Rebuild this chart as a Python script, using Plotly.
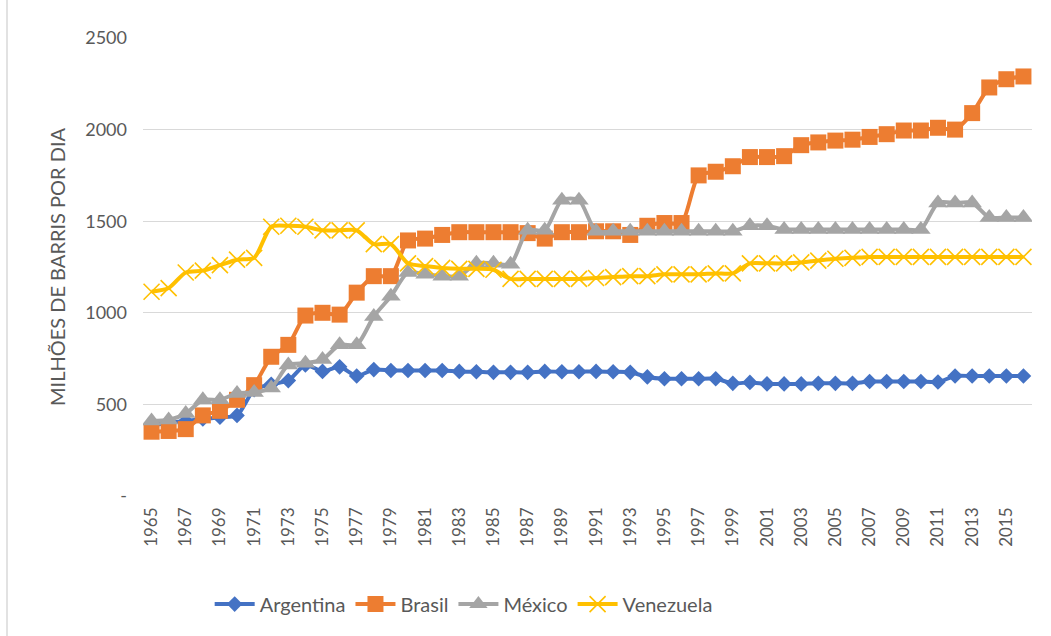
import plotly.graph_objects as go

# Produção de petróleo (milhões de barris por dia), 1965-2016
anos = list(range(1965, 2017))

argentina = [385, 400, 410, 420, 430, 440, 580, 610, 630, 715, 680, 705, 655, 690, 685,
             685, 685, 685, 680, 678, 675, 675, 675, 680, 678,
             678, 680, 678, 675, 650, 640, 640, 640, 640, 615,
             620, 612, 612, 612, 615, 615, 615, 625, 625, 625,
             625, 622, 655, 655, 655, 655, 655]

brasil = [351, 355, 365, 440, 465, 525, 605, 760, 825, 985, 1000, 990, 1110, 1200, 1200,
          1395, 1405, 1425, 1440, 1440, 1440, 1440, 1435, 1405, 1440,
          1440, 1445, 1445, 1425, 1475, 1490, 1490, 1750, 1770, 1800,
          1850, 1850, 1855, 1915, 1930, 1940, 1945, 1960, 1975, 1995,
          1995, 2010, 2000, 2090, 2230, 2275, 2290]

mexico = [410, 415, 450, 525, 525, 560, 565, 590, 715, 725, 745, 825, 825, 980, 1090,
          1220, 1210, 1200, 1200, 1270, 1270, 1265, 1450, 1450, 1615,
          1615, 1445, 1445, 1445, 1445, 1445, 1445, 1445, 1445, 1445,
          1475, 1475, 1455, 1455, 1455, 1455, 1455, 1455, 1455, 1455,
          1455, 1600, 1600, 1600, 1520, 1520, 1520]

venezuela = [1115, 1135, 1220, 1230, 1260, 1290, 1300, 1470, 1475, 1470, 1450, 1450, 1450, 1375, 1375,
             1270, 1255, 1245, 1240, 1240, 1235, 1185, 1185, 1185, 1185,
             1185, 1190, 1195, 1200, 1200, 1210, 1210, 1210, 1215, 1215,
             1270, 1270, 1270, 1275, 1285, 1295, 1300, 1305, 1305, 1305,
             1305, 1305, 1305, 1305, 1305, 1305, 1305]

y_ticks = [0, 500, 1000, 1500, 2000, 2500]
y_tick_text = ["-", "500", "1000", "1500", "2000", "2500"]
x_ticks = anos[::2]

FONT = "Lato, Open Sans, sans-serif"
TXT = "#595959"

fig = go.Figure()

series = [
    ("Argentina", argentina, "#4472C4", dict(symbol="diamond", size=12)),
    ("Brasil", brasil, "#ED7D31", dict(symbol="square", size=16)),
    ("México", mexico, "#A5A5A5", dict(symbol="triangle-up", size=17)),
    ("Venezuela", venezuela, "#FFC000",
     dict(symbol="x-thin", size=16, line=dict(width=1.6, color="#FFC000"))),
]

for nome, vals, cor, mk in series:
    fig.add_trace(go.Scatter(
        x=anos, y=vals, name=nome, mode="lines+markers",
        line=dict(color=cor, width=4, shape="spline", smoothing=0.7),
        marker=dict(color=cor, **mk),
    ))

fig.update_layout(
    width=1051, height=636,
    margin=dict(l=143, r=19, t=38, b=140),
    paper_bgcolor="white", plot_bgcolor="white",
    font=dict(family=FONT, color=TXT, size=15),
    showlegend=True,
    legend=dict(orientation="h", x=0.075, xanchor="left", y=-0.236, yanchor="middle",
                font=dict(size=20, color=TXT), itemwidth=40, traceorder="normal"),
    xaxis=dict(range=[1964.5, 2016.5], tickmode="array", tickvals=x_ticks,
               ticktext=[str(a) for a in x_ticks], tickangle=-90,
               tickfont=dict(size=17, color=TXT), showgrid=False, zeroline=False,
               showline=False, ticks="", ticklabelstandoff=7),
    yaxis=dict(range=[0, 2500], tickmode="array", tickvals=y_ticks, ticktext=y_tick_text,
               tickfont=dict(size=18, color=TXT), showgrid=True, gridcolor="#D9D9D9",
               gridwidth=1.3, zeroline=False, showline=False, ticks="", ticklabelstandoff=15),
    annotations=[dict(text="MILHÕES DE BARRIS POR DIA", textangle=-90, xref="paper", yref="paper",
                      x=(57 - 143) / 889, y=0.5, xanchor="center", yanchor="middle",
                      showarrow=False, font=dict(size=20, color=TXT))],
    shapes=[dict(type="line", xref="paper", yref="paper",
                 x0=(7 - 143) / 889, x1=(7 - 143) / 889, y0=-140 / 458, y1=(636 - 140) / 458 + 0.1,
                 line=dict(color="#D9D9D9", width=1.5))],
)

fig.write_html("out.html")
